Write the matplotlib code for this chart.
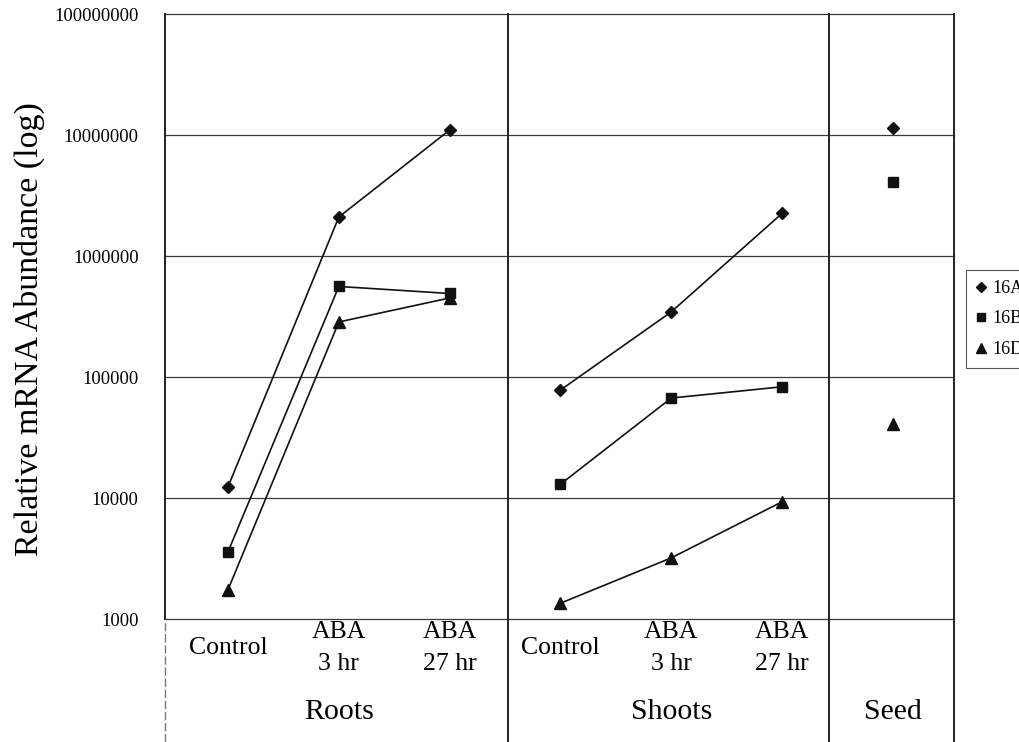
import matplotlib
matplotlib.use("Agg")
import matplotlib.pyplot as plt
from matplotlib.lines import Line2D

plt.rcParams['font.family'] = ['Liberation Serif', 'DejaVu Serif']

# ---- data ----
conditions = ["Control", "ABA\n3 hr", "ABA\n27 hr", "Control", "ABA\n3 hr", "ABA\n27 hr", ""]
groups = ["Roots", "Shoots", "Seed"]
series_names = ["16A", "16B", "16D"]
roots_16A = [12400, 2100000, 11000000]
roots_16B = [3600, 560000, 490000]
roots_16D = [1750, 285000, 450000]
shoots_16A = [78000, 345000, 2250000]
shoots_16B = [13000, 67000, 83000]
shoots_16D = [1350, 3200, 9300]
seed_16A = [11500000]
seed_16B = [4100000]
seed_16D = [40500]
ytick_values = [1000, 10000, 100000, 1000000, 10000000, 100000000]
ytick_labels = ["1000", "10000", "100000", "1000000", "10000000", "100000000"]

# ---- layout ----
W, H = 1019, 742
fig = plt.figure(figsize=(W / 100, H / 100), dpi=100)
L, R, T, B = 165, 954, 14, 619
ax = fig.add_axes([L / W, 1 - B / H, (R - L) / W, (B - T) / H])
ax.set_yscale('log')
ax.set_ylim(1000, 1e8)
ax.set_xlim(-0.569, 6.552)

for s in ax.spines.values():
    s.set_visible(False)

# gridlines
for v in ytick_values:
    ax.axhline(v, color='#3a3a3a', lw=0.9, zorder=1, clip_on=False)

# separators and borders extending below axes
ext = -(H - B) / (B - T)
line_kw = dict(color='#222222', lw=1.4, clip_on=False, zorder=2)
ax.axvline(2.527, ymin=ext, ymax=1.0, **line_kw)
ax.axvline(5.424, ymin=ext, ymax=1.0, **line_kw)
ax.axvline(6.552, ymin=ext, ymax=1.0, **line_kw)
ax.axvline(-0.569, ymin=0, ymax=1.0, **line_kw)
ax.axvline(-0.569, ymin=ext, ymax=0, color='#777777', lw=1.0, ls=(0, (6, 2)), clip_on=False)

markers = ['D', 's', '^']
msizes = [6.6, 7.5, 8.5]
roots = [roots_16A, roots_16B, roots_16D]
shoots = [shoots_16A, shoots_16B, shoots_16D]
seed = [seed_16A, seed_16B, seed_16D]
for i in range(3):
    ax.plot([0, 1, 2], roots[i], color='#111111', lw=1.2, marker=markers[i],
            ms=msizes[i], mfc='#111111', mec='#111111', zorder=3, clip_on=False)
    ax.plot([3, 4, 5], shoots[i], color='#111111', lw=1.2, marker=markers[i],
            ms=msizes[i], mfc='#111111', mec='#111111', zorder=3, clip_on=False)
    ax.plot([6], seed[i], ls='none', marker=markers[i],
            ms=msizes[i], mfc='#111111', mec='#111111', zorder=3, clip_on=False)

# y ticks
ax.yaxis.set_minor_locator(matplotlib.ticker.NullLocator())
ax.set_yticks(ytick_values)
ax.set_yticklabels(ytick_labels, fontsize=13.3)
ax.yaxis.set_minor_locator(matplotlib.ticker.NullLocator())
ax.tick_params(axis='y', length=0, pad=19)
ax.set_xticks([])

ax.set_ylabel("Relative mRNA Abundance (log)", fontsize=24.5)
ax.yaxis.set_label_coords(-0.152, 0.48)

# category labels
xt = ax.get_xaxis_transform()
for i, lab in enumerate(conditions):
    if lab:
        ax.text(i, -0.048, lab, transform=xt, ha='center', va='center',
                fontsize=18.5, linespacing=1.6)
for x, g in zip([1, 4, 6], groups):
    ax.text(x, -0.154, g, transform=xt, ha='center', va='center', fontsize=21.5)

# legend
handles = [Line2D([], [], ls='none', marker=m, ms=ms * 0.8, mfc='#111111', mec='#111111')
           for m, ms in zip(markers, msizes)]
leg = fig.legend(handles, series_names, loc='upper left',
                 bbox_to_anchor=(966 / W, 1 - 270 / H), borderaxespad=0,
                 fontsize=13, handlelength=0.6, handletextpad=0.3,
                 labelspacing=0.75, borderpad=0.55, fancybox=False,
                 edgecolor='#555555', framealpha=1)
leg.get_frame().set_linewidth(0.8)

fig.savefig("out.png", dpi=100)
